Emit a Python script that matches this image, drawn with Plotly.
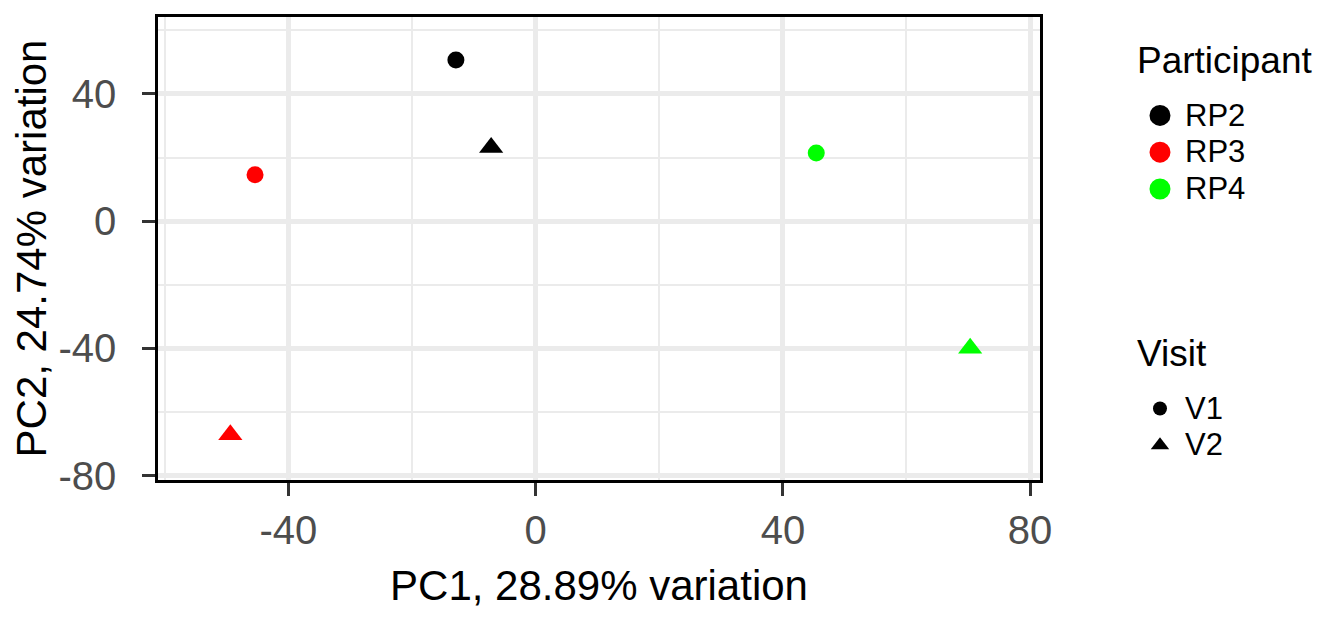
import plotly.graph_objects as go

participants = ["RP2", "RP2", "RP3", "RP3", "RP4", "RP4"]
visits = ["V1", "V2", "V1", "V2", "V1", "V2"]
pc1 = [-12.9, -7.2, -45.4, -49.4, 45.4, 70.3]
pc2 = [50.7, 23.2, 14.6, -67.2, 21.4, -40.0]

participant_levels = ["RP2", "RP3", "RP4"]
participant_colors = {"RP2": "#000000", "RP3": "#FF0000", "RP4": "#00FF00"}
visit_levels = ["V1", "V2"]
visit_symbols = {"V1": "circle", "V2": "triangle-up"}
visit_sizes = {"V1": 17, "V2": 21}
visit_legend_sizes = {"V1": 14, "V2": 17}

tick_values = [-80, -40, 0, 40, 80]
tick_labels = ["-80", "-40", "0", "40", "80"]

x_title = "PC1, 28.89% variation"
y_title = "PC2, 24.74% variation"

FONT = "Liberation Sans, Arial, sans-serif"


def big(txt, px):
    return f'<span style="font-size:{px}px">{txt}</span>'


def legend_title(txt):
    # blank lines around the title add the extra gap ggplot leaves below it
    return "&nbsp;<br>" + big(txt, 37) + "<br>&nbsp;"


fig = go.Figure()

for p, v, x, y in zip(participants, visits, pc1, pc2):
    fig.add_trace(go.Scatter(
        x=[x], y=[y], mode="markers",
        marker=dict(color=participant_colors[p], symbol=visit_symbols[v],
                    size=visit_sizes[v], line=dict(width=0)),
        showlegend=False, hoverinfo="x+y+name", name=f"{p} {v}",
    ))

for p in participant_levels:
    fig.add_trace(go.Scatter(
        x=[None], y=[None], mode="markers", name=big(p, 31),
        marker=dict(color=participant_colors[p], symbol="circle", size=16,
                    line=dict(width=5, color=participant_colors[p])),
        legend="legend",
    ))

for v in visit_levels:
    fig.add_trace(go.Scatter(
        x=[None], y=[None], mode="markers", name=big(v, 31),
        marker=dict(color="#000000", symbol=visit_symbols[v],
                    size=visit_legend_sizes[v], line=dict(width=0)),
        legend="legend2",
    ))

axis_common = dict(
    showline=True, linecolor="#000000", linewidth=2.5, mirror=True,
    ticks="outside", ticklen=13, tickwidth=3, tickcolor="#333333",
    showgrid=True, gridcolor="#EBEBEB", gridwidth=4.5,
    zeroline=False,
    tickfont=dict(family=FONT, size=40, color="#4D4D4D"),
    tickmode="array", tickvals=tick_values, ticktext=tick_labels,
    minor=dict(dtick=20, tick0=0, showgrid=True, gridcolor="#EBEBEB", gridwidth=2, ticks=""),
)

legend_common = dict(
    xanchor="left", yanchor="top",
    font=dict(family=FONT, size=26, color="#000000"),
    bgcolor="rgba(0,0,0,0)", itemsizing="trace", itemwidth=40, tracegroupgap=0,
)

fig.update_layout(
    width=1315, height=601,
    margin=dict(l=150, r=283, t=6, b=123),
    paper_bgcolor="white", plot_bgcolor="white",
    font=dict(family=FONT, color="#000000"),
    xaxis=dict(range=[-61.1, 81.6], **axis_common,
               title=dict(text=x_title, font=dict(family=FONT, size=42, color="#000000"), standoff=22)),
    yaxis=dict(range=[-81.4, 64.2], **axis_common, ticklabelstandoff=18,
               title=dict(text=y_title, font=dict(family=FONT, size=42, color="#000000"), standoff=0)),
    legend=dict(
        x=1.1077, y=0.961,
        title=dict(text=legend_title("Participant"), font=dict(family=FONT, size=14.6, color="#000000")),
        **legend_common,
    ),
    legend2=dict(
        x=1.1077, y=0.328,
        title=dict(text=legend_title("Visit"), font=dict(family=FONT, size=14.6, color="#000000")),
        **legend_common,
    ),
)

fig.write_html("out.html")
